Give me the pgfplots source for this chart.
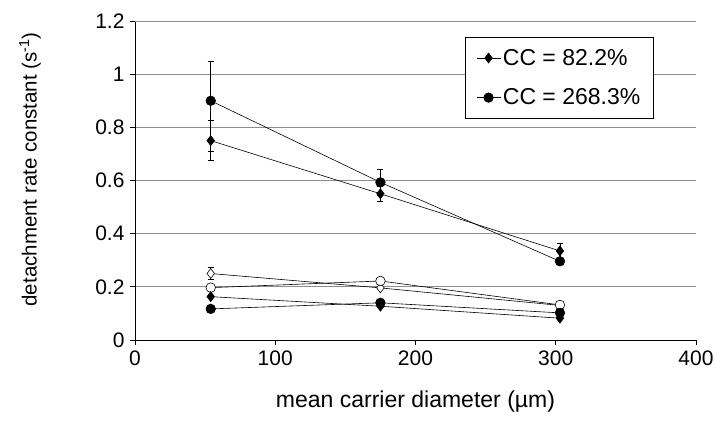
\documentclass[border=0pt]{standalone}
\usepackage{pgfplots}
\pgfplotsset{compat=1.18}
\usepackage{fontspec}
\setmainfont{Liberation Sans}
\begin{document}
\begin{tikzpicture}
\begin{axis}[
  at={(0,0)}, anchor=south west,
  scale only axis, width=561bp, height=319bp,
  xmin=0, xmax=400, ymin=0, ymax=1.2,
  xtick={0,100,200,300,400},
  ytick={0,0.2,0.4,0.6,0.8,1,1.2},
  yticklabels={0,0.2,0.4,0.6,0.8,1,1.2},
  axis x line*=bottom, axis y line*=left,
  axis line style={black, line width=0.7pt, -},
  tick align=outside, major tick length=5bp,
  tick style={black, line width=0.7pt},
  ymajorgrids, grid style={gray!90, line width=0.8pt},
  tick label style={font=\fontsize{21bp}{24bp}\selectfont},
  xticklabel style={yshift=-2bp},
  yticklabel style={xshift=-2bp},
  /pgf/number format/assume math mode=true,
  xlabel={mean carrier diameter (µm)},
  ylabel={detachment rate constant (s\textsuperscript{-1})},
  xlabel style={font=\fontsize{23bp}{26bp}\selectfont,
    at={([yshift=-62bp]axis description cs:0.5,0)}, anchor=center},
  ylabel style={font=\fontsize{20.5bp}{24bp}\selectfont,
    at={([xshift=-105bp]axis description cs:0,0.535)}, anchor=center},
  legend style={at={(rel axis cs:0.588,0.95)}, anchor=north west,
    draw=black, fill=white, line width=0.7pt,
    font=\fontsize{23bp}{26bp}\selectfont,
    row sep=18bp, inner xsep=11bp, inner ysep=10bp, cells={anchor=west}},
  legend image code/.code={
    \draw[#1] (0cm,0cm) -- (0.85cm,0cm);
    \draw[#1, only marks] plot coordinates {(0.425cm,0cm)};},
  every axis plot/.append style={black, line width=0.6pt},
  error bars/y dir=both, error bars/y explicit,
  error bars/error bar style={black, line width=0.6pt},
  error bars/error mark options={rotate=90, mark size=3bp, black, line width=0.6pt},
]
\draw[gray!90, line width=0.8pt] (rel axis cs:0,1) -- (rel axis cs:1,1) -- (rel axis cs:1,0);
% filled diamond, CC = 82.2%
\addplot[mark=diamond*, mark size=5bp, mark options={fill=black, solid}] coordinates {
  (54,0.75) +- (0,0.075)
  (175,0.55) +- (0,0.03)
  (303,0.335) +- (0,0.028)
};
\addlegendentry{CC = 82.2\%}
% filled circle, CC = 268.3%
\addplot[mark=*, mark size=4.8bp, mark options={fill=black, solid}] coordinates {
  (54,0.90) += (0,0.15) -= (0,0.19)
  (175,0.593) +- (0,0.05)
  (303,0.296) +- (0,0.0)
};
\addlegendentry{CC = 268.3\%}
% open diamond
\addplot[mark=diamond*, mark size=5bp, mark options={fill=white, solid}, forget plot] coordinates {
  (54,0.25) +- (0,0.022)
  (175,0.196) +- (0,0)
  (303,0.13) +- (0,0)
};
% open circle
\addplot[mark=*, mark size=4.8bp, mark options={fill=white, solid}, forget plot] coordinates {
  (54,0.197) +- (0,0)
  (175,0.222) +- (0,0)
  (303,0.132) +- (0,0)
};
% filled diamond, lower
\addplot[mark=diamond*, mark size=5bp, mark options={fill=black, solid}, forget plot] coordinates {
  (54,0.163) +- (0,0)
  (175,0.127) +- (0,0)
  (303,0.082) +- (0,0)
};
% filled circle, lower
\addplot[mark=*, mark size=4.8bp, mark options={fill=black, solid}, forget plot] coordinates {
  (54,0.117) +- (0,0)
  (175,0.14) +- (0,0)
  (303,0.102) +- (0,0)
};
\end{axis}
\pgfresetboundingbox
\useasboundingbox (-135bp,-96bp) rectangle (580bp,340bp);
\end{tikzpicture}
\end{document}
